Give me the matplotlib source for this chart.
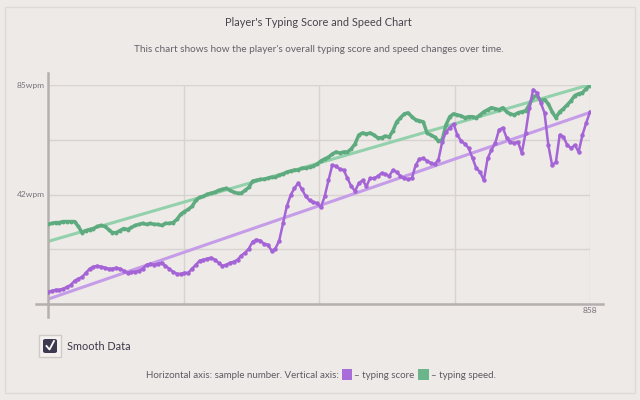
import numpy as np
import matplotlib.pyplot as plt
from matplotlib.patches import Rectangle, FancyBboxPatch

plt.rcParams['font.family'] = ['Lato', 'DejaVu Sans']

# every 6th sample, 0..858
sample_step = 6
speed = [30.9, 31.3, 31.6, 31.6, 32.0, 32.0, 32.0, 32.0, 30.1, 27.7,
         28.5, 28.9, 29.3, 30.1, 30.5, 30.1, 28.9, 27.7, 27.7, 28.5,
         29.3, 28.9, 29.7, 30.5, 30.9, 31.3, 30.9, 31.3, 30.9, 30.9,
         30.5, 31.3, 31.3, 31.6, 32.8, 34.8, 35.9, 36.7, 37.9, 40.2,
         41.4, 41.8, 42.6, 43.0, 43.4, 44.1, 44.5, 44.9, 44.1, 43.4,
         43.0, 43.0, 44.1, 45.3, 47.7, 48.0, 48.4, 48.4, 48.8, 49.2,
         49.2, 50.0, 50.4, 51.2, 51.6, 52.0, 52.0, 52.7, 52.7, 53.1,
         53.5, 54.3, 55.5, 56.3, 57.0, 58.2, 59.0, 58.6, 59.0, 59.0,
         60.2, 62.1, 65.6, 66.4, 66.0, 66.4, 65.6, 64.5, 64.5, 65.2,
         64.8, 67.2, 70.7, 72.3, 73.8, 74.2, 72.7, 71.5, 71.1, 70.7,
         66.4, 65.6, 64.8, 63.3, 63.7, 69.5, 72.7, 73.8, 73.4, 73.0,
         72.3, 72.7, 72.7, 72.3, 73.4, 74.6, 75.4, 76.2, 75.8, 75.4,
         76.2, 74.6, 73.8, 73.4, 74.2, 74.6, 75.0, 77.3, 80.5, 80.9,
         78.9, 79.3, 77.7, 74.6, 72.3, 74.6, 75.8, 77.3, 78.9, 80.9,
         81.6, 82.0, 83.6, 84.8]
score = [4.7, 5.1, 5.5, 5.5, 5.9, 6.6, 7.4, 9.0, 9.8, 10.5,
         12.1, 13.7, 14.5, 14.8, 14.5, 14.1, 13.7, 13.7, 14.1, 13.7,
         12.9, 12.1, 12.5, 12.5, 12.9, 13.7, 15.2, 15.6, 15.2, 15.6,
         16.0, 14.8, 13.7, 12.5, 11.7, 11.7, 12.1, 12.1, 13.7, 15.2,
         16.8, 17.2, 17.6, 18.0, 17.2, 16.0, 14.8, 15.2, 16.0, 16.4,
         17.2, 18.8, 19.9, 21.5, 24.2, 25.0, 24.6, 23.4, 23.0, 20.7,
         21.5, 24.6, 31.3, 37.9, 42.2, 44.9, 46.9, 44.5, 41.8, 40.2,
         39.5, 39.1, 37.5, 41.8, 48.0, 53.9, 53.5, 52.3, 52.0, 48.8,
         45.7, 43.8, 46.9, 48.0, 45.7, 48.8, 48.8, 49.6, 50.8, 50.4,
         49.6, 52.0, 51.2, 49.6, 48.8, 48.4, 48.8, 53.9, 56.3, 56.6,
         55.5, 54.7, 54.3, 55.9, 62.9, 66.8, 68.4, 69.9, 65.6, 63.3,
         62.1, 60.5, 56.6, 52.7, 51.2, 48.0, 56.6, 59.8, 62.5, 67.6,
         68.4, 64.5, 62.9, 62.5, 62.9, 58.6, 66.4, 76.2, 83.2, 82.0,
         78.1, 74.2, 61.7, 53.9, 55.1, 65.6, 64.8, 61.7, 60.5, 61.7,
         59.0, 65.6, 70.3, 74.6]
n_samples = 858
y_max = 85

x = np.arange(len(speed)) * sample_step

bg = '#eeeae7'
purple = '#a464d6'
purple_fit = '#c59ce8'
green = '#5fab80'
green_fit = '#92d1ab'
grid_c = '#d8d3d0'
axis_c = '#b5b0ad'
txt_c = '#5e5964'

fig = plt.figure(figsize=(6.4, 4), dpi=100, facecolor=bg)
fig.patches.append(Rectangle((5/640, 7/400), 630/640, 386/400, transform=fig.transFigure,
                             fill=False, ec='#dedad7', lw=1))

ax = fig.add_axes([48/640, 96/400, 542/640, 219/400])
ax.set_facecolor(bg)
ax.set_xlim(0, n_samples)
ax.set_ylim(0, y_max)

# trend lines
for vals, c in ((score, purple_fit), (speed, green_fit)):
    k, b = np.polyfit(x, vals, 1)
    ax.plot([0, n_samples], [b, k * n_samples + b], color=c, lw=2.2, zorder=2)

ax.plot(x, speed, color=green, lw=2.5, marker='o', ms=1.8, zorder=3)
ax.plot(x, score, color=purple, lw=1.8, marker='o', ms=2.2, zorder=3)

ax.set_yticks(np.linspace(0, y_max, 5))
ax.set_yticklabels(['', '', '42wpm', '', '85wpm'])
ax.set_xticks(np.linspace(0, n_samples, 5))
ax.set_xticklabels(['', '', '', '', '858'])
ax.grid(True, color=grid_c, lw=1)
ax.tick_params(length=0, labelsize=6, labelcolor='#77727a', pad=2.5)
for s in ax.spines.values():
    s.set_visible(False)
ax.plot([0, 0], [-0.06, 1.055], transform=ax.transAxes, color=axis_c, lw=1.8, clip_on=False)
ax.plot([-0.022, 1.024], [0, 0], transform=ax.transAxes, color=axis_c, lw=1.8, clip_on=False)

fig.text(0.497, 1 - 22/400, "Player's Typing Score and Speed Chart", ha='center', va='center',
         fontsize=7.9, color='#48434f')
fig.text(0.4975, 1 - 50/400,
         "This chart shows how the player's overall typing score and speed changes over time.",
         ha='center', va='center', fontsize=7.2, color='#66616b')

# checkbox
fig.patches.append(Rectangle((39/640, 1 - 357/400), 22/640, 22/400, transform=fig.transFigure,
                             fc='#f4f1ef', ec='#cfcac7', lw=1))
fig.patches.append(FancyBboxPatch((43/640, 1 - 353/400), 14/640, 14/400, transform=fig.transFigure,
                                  boxstyle='round,pad=0,rounding_size=0.004', fc='#3d3950', ec='none'))
fig.lines.append(plt.Line2D([46.5/640, 49.5/640, 54/640], [1 - 346/400, 1 - 349.5/400, 1 - 341/400],
                            transform=fig.transFigure, color='white', lw=1.3))
fig.text(67/640, 1 - 347/400, 'Smooth Data', ha='left', va='center', fontsize=7.8, color='#3c3746')

# caption with colour keys
cap_y = 1 - 375/400
fig.text(339/640, cap_y, 'Horizontal axis: sample number. Vertical axis:', ha='right', va='center',
         fontsize=7.0, color=txt_c)
fig.patches.append(Rectangle((342/640, 1 - 380/400), 10/640, 11/400, transform=fig.transFigure,
                             fc='#a86dd8', ec='none'))
fig.text(354/640, cap_y, '– typing score', ha='left', va='center', fontsize=7.0, color=txt_c)
fig.patches.append(Rectangle((418/640, 1 - 380/400), 11/640, 11/400, transform=fig.transFigure,
                             fc='#6bb58b', ec='none'))
fig.text(431/640, cap_y, '– typing speed.', ha='left', va='center', fontsize=7.0, color=txt_c)

fig.savefig('out.png', dpi=100, facecolor=bg)
